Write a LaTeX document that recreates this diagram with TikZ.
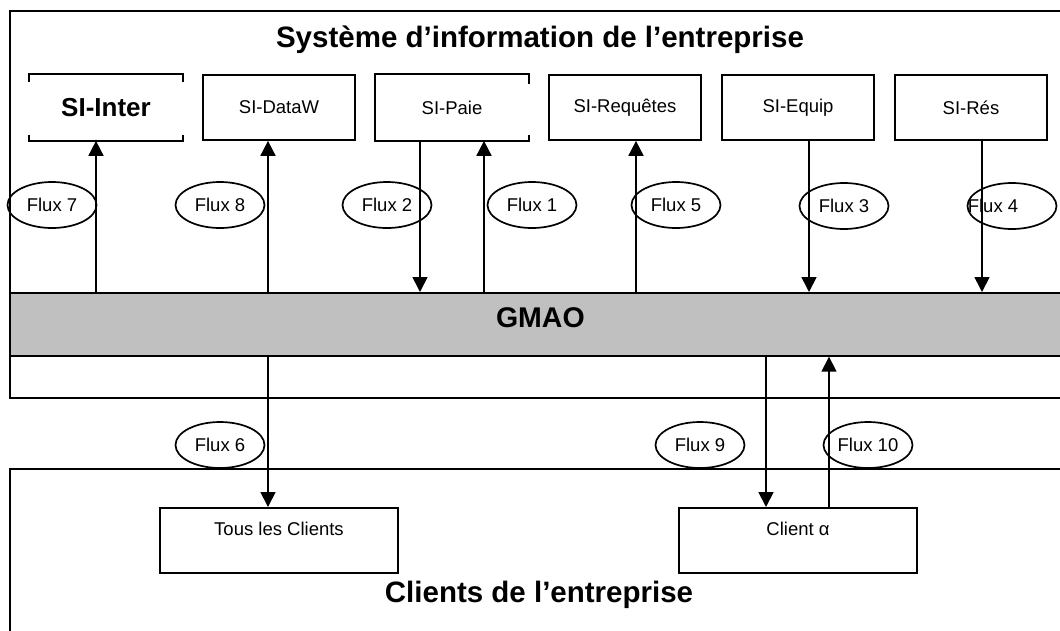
\documentclass[tikz,border=0pt]{standalone}
\usepackage{fontspec}
\setmainfont{Liberation Sans}
\usetikzlibrary{arrows.meta,shapes.geometric}
\definecolor{gmaogray}{RGB}{192,192,192}
\begin{document}
\begin{tikzpicture}[x=1pt,y=-1pt,line width=1.7pt,
  box/.style={minimum width=152pt,minimum height=65pt,inner sep=0pt,font=\fontsize{18.5}{20}\selectfont},
  flux/.style={draw,ellipse,minimum width=89pt,minimum height=46pt,inner sep=0pt,font=\fontsize{18.5}{20}\selectfont},
  client/.style={draw,anchor=north,minimum width=238pt,inner sep=0pt,text height=27.5pt,text depth=37.5pt,font=\fontsize{18.5}{20}\selectfont},
  big/.style={anchor=base,font=\bfseries\fontsize{29.5}{31}\selectfont},
  flow/.style={-{Triangle[width=15pt,length=15pt]}}]
\useasboundingbox (0,0) rectangle (1060,630);
\clip (0,0) rectangle (1060,630);
% les deux cadres
\node[draw,anchor=north west,minimum width=1061pt,minimum height=387pt,inner sep=0pt] (si) at (9,10) {};
\node[draw,anchor=north west,minimum width=1061pt,minimum height=180pt,inner sep=0pt] (cl) at (9,468) {};
\node[big] (sititle) at (540,47) {Système d’information de l’entreprise};
\node[big] (cltitle) at (539,602) {Clients de l’entreprise};
% GMAO
\node[draw,fill=gmaogray,anchor=north west,minimum width=1061pt,minimum height=63pt,inner sep=0pt,text height=19pt,text depth=12pt,font=\bfseries\fontsize{28.5}{30}\selectfont] (gmao) at (9,292) {GMAO};
% les SI
\node[box,font=\bfseries\fontsize{26}{28}\selectfont] (inter) at (106,107.5) {SI-Inter};
\node[box,draw] (dataw) at (279,107.5) {SI-DataW};
\node[box] (paie) at (452,107.5) {SI-Paie};
\node[box,draw] (req) at (625,107.5) {SI-Requêtes};
\node[box,draw] (equip) at (798,107.5) {SI-Equip};
\node[box,draw] (res) at (971,107.5) {SI-Rés};
\path[draw] (inter.north west) ++(0,8) |- (inter.north east) -- ++(0,8);
\path[draw] (inter.south west) ++(0,-6) |- (inter.south east) -- ++(0,-6);
\path[draw] (paie.north east) ++(0,10) |- (paie.north west) |- (paie.south east) -- ++(0,-6);
% les clients
\node[client] (tous) at (279,507) {Tous les Clients};
\node[client] (calpha) at (798,507) {Client α};
% abscisses des flux
\coordinate (x7) at (96,0);
\coordinate (x8) at (268,0);
\coordinate (x2) at (420,0);
\coordinate (x1) at (484,0);
\coordinate (x5) at (636,0);
\coordinate (x3) at (809,0);
\coordinate (x4) at (982,0);
\coordinate (x6) at (268,0);
\coordinate (x9) at (766,0);
\coordinate (x10) at (829,0);
\path[draw,flow] (x7 |- gmao.north) -- (x7 |- inter.south);
\path[draw,flow] (x8 |- gmao.north) -- (x8 |- dataw.south);
\path[draw,flow] (x2 |- paie.south) -- (x2 |- gmao.north);
\path[draw,flow] (x1 |- gmao.north) -- (x1 |- paie.south);
\path[draw,flow] (x5 |- gmao.north) -- (x5 |- req.south);
\path[draw,flow] (x3 |- equip.south) -- (x3 |- gmao.north);
\path[draw,flow] (x4 |- res.south) -- (x4 |- gmao.north);
\path[draw,flow] (x6 |- gmao.south) -- (x6 |- tous.north);
\path[draw,flow] (x9 |- gmao.south) -- (x9 |- calpha.north);
\path[draw,flow] (x10 |- calpha.north) -- (x10 |- gmao.south);
% etiquettes
\node[flux] (f7) at (52,205) {Flux 7};
\node[flux] (f8) at (220,205) {Flux 8};
\node[flux] (f2) at (387,205) {Flux 2};
\node[flux] (f1) at (532,205) {Flux 1};
\node[flux] (f5) at (676,205) {Flux 5};
\node[flux] (f3) at (844,206) {Flux 3};
\node[flux] (f4) at (1012,206) {};
\node[font=\fontsize{18.5}{20}\selectfont] (t4) at (993,206) {Flux 4};
\node[flux] (f6) at (220,445) {Flux 6};
\node[flux] (f9) at (700,445) {Flux 9};
\node[flux] (f10) at (868,445) {Flux 10};
\end{tikzpicture}
\end{document}
